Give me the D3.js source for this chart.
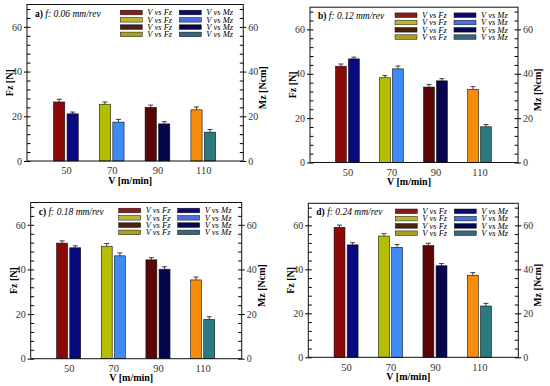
<!DOCTYPE html>
<html>
<head>
<meta charset="utf-8">
<script src="https://cdn.jsdelivr.net/npm/d3@7"></script>
<style>
  body { margin: 0; background: #fff; }
  svg { display: block; }
  text { font-family: "Liberation Serif", "Times New Roman", serif; }
</style>
</head>
<body>
<div id="chart"></div>
<script>
// cutting speeds (x categories)
const speeds = [50, 70, 90, 110];
const panelTags = ["a)", "b)", "c)", "d)"];
const feedRates = ["0.06", "0.12", "0.18", "0.24"];

// Fz [N] and Mz [Ncm] per feed rate
const fzA = [26.4, 25.4, 24.0, 22.9];
const mzA = [21.1, 17.4, 16.6, 12.9];
const fzB = [43.4, 38.2, 34.0, 32.9];
const mzB = [46.7, 42.2, 36.8, 16.1];
const fzC = [51.8, 50.4, 44.3, 35.3];
const mzC = [49.7, 46.1, 40.1, 17.6];
const fzD = [59.1, 55.1, 50.8, 37.3];
const mzD = [51.1, 50.0, 41.6, 23.3];

// error bars
const fzErrA = [1.2, 1.0, 1.0, 1.3];
const mzErrA = [0.8, 1.2, 1.0, 1.2];
const fzErrB = [1.0, 1.0, 1.2, 1.3];
const mzErrB = [0.8, 1.3, 1.0, 1.0];
const fzErrC = [1.0, 1.2, 1.0, 1.3];
const mzErrC = [0.9, 1.3, 1.1, 1.2];
const fzErrD = [1.0, 1.1, 1.0, 1.2];
const mzErrD = [1.0, 1.3, 1.0, 1.2];

const yTicks = [0, 20, 40, 60];
const legendFz = ["V vs Fz", "V vs Fz", "V vs Fz", "V vs Fz"];
const legendMz = ["V vs Mz", "V vs Mz", "V vs Mz", "V vs Mz"];

const fzColors = ["#8a0a0a", "#b5bd00", "#5a0606", "#f78d0a"];
const mzColors = ["#0a0a80", "#3d8bf5", "#06064f", "#2b7a80"];
const legFzColors = ["#8b1a1a", "#b8b830", "#4a200f", "#a8a020"];
const legMzColors = ["#0a0a70", "#4a6fe0", "#050550", "#3a6580"];

const panels = [
  { tag: panelTags[0], feed: feedRates[0], fz: fzA, mz: mzA, fzErr: fzErrA, mzErr: mzErrA,
    box: { left: 27, right: 243.3, top: 4.5, bottom: 161 } },
  { tag: panelTags[1], feed: feedRates[1], fz: fzB, mz: mzB, fzErr: fzErrB, mzErr: mzErrB,
    box: { left: 310, right: 518, top: 7.2, bottom: 162.5 } },
  { tag: panelTags[2], feed: feedRates[2], fz: fzC, mz: mzC, fzErr: fzErrC, mzErr: mzErrC,
    box: { left: 30.7, right: 241.7, top: 202.5, bottom: 358.7 } },
  { tag: panelTags[3], feed: feedRates[3], fz: fzD, mz: mzD, fzErr: fzErrD, mzErr: mzErrD,
    box: { left: 308.3, right: 518.3, top: 203.3, bottom: 357.3 } }
];

const svg = d3.select("#chart")
  .append("svg")
  .attr("width", 550)
  .attr("height", 386);

panels.forEach(p => drawPanel(p));

function drawPanel(p) {
  const b = p.box;
  const g = svg.append("g");

  const x = d3.scaleLinear().domain([33, 127.5]).range([b.left, b.right]);
  const y = d3.scaleLinear().domain([0, 70]).range([b.bottom, b.top]);

  const rows = speeds.map((v, i) => ({
    v, i, fz: p.fz[i], mz: p.mz[i], fzErr: p.fzErr[i], mzErr: p.mzErr[i]
  }));

  // bars
  g.selectAll("rect.fz")
    .data(rows)
    .join("rect")
    .attr("class", "fz")
    .attr("x", d => x(d.v - 5.4))
    .attr("y", d => y(d.fz))
    .attr("width", d => x(d.v - 0.5) - x(d.v - 5.4))
    .attr("height", d => y(0) - y(d.fz))
    .attr("fill", d => fzColors[d.i])
    .attr("stroke", "#111")
    .attr("stroke-width", 0.6);

  g.selectAll("rect.mz")
    .data(rows)
    .join("rect")
    .attr("class", "mz")
    .attr("x", d => x(d.v + 0.5))
    .attr("y", d => y(d.mz))
    .attr("width", d => x(d.v + 5.4) - x(d.v + 0.5))
    .attr("height", d => y(0) - y(d.mz))
    .attr("fill", d => mzColors[d.i])
    .attr("stroke", "#111")
    .attr("stroke-width", 0.6);

  // error bars
  const errs = [];
  rows.forEach(d => {
    errs.push({ cx: d.v - 2.95, val: d.fz, err: d.fzErr });
    errs.push({ cx: d.v + 2.95, val: d.mz, err: d.mzErr });
  });
  const eg = g.append("g").attr("stroke", "#111").attr("stroke-width", 0.8);
  eg.selectAll("line.stem")
    .data(errs)
    .join("line")
    .attr("x1", d => x(d.cx)).attr("x2", d => x(d.cx))
    .attr("y1", d => y(d.val)).attr("y2", d => y(d.val + d.err));
  eg.selectAll("line.cap")
    .data(errs)
    .join("line")
    .attr("x1", d => x(d.cx) - 2.5).attr("x2", d => x(d.cx) + 2.5)
    .attr("y1", d => y(d.val + d.err)).attr("y2", d => y(d.val + d.err));

  // minor / inside ticks
  const minor = d3.range(0, 70, 4);
  g.append("g")
    .attr("transform", `translate(${b.left},0)`)
    .call(d3.axisLeft(y).tickValues(minor).tickSize(-3.5).tickFormat(""))
    .call(s => s.select(".domain").remove());
  g.append("g")
    .attr("transform", `translate(${b.right},0)`)
    .call(d3.axisRight(y).tickValues(minor).tickSize(-3.5).tickFormat(""))
    .call(s => s.select(".domain").remove());

  // major ticks with labels
  g.append("g")
    .attr("transform", `translate(${b.left},0)`)
    .call(d3.axisLeft(y).tickValues(yTicks).tickSize(3).tickPadding(2))
    .call(s => s.select(".domain").remove())
    .call(s => s.selectAll("text")
      .attr("font-size", 10).attr("fill", "#333"));
  g.append("g")
    .attr("transform", `translate(${b.right},0)`)
    .call(d3.axisRight(y).tickValues(yTicks).tickSize(3).tickPadding(2))
    .call(s => s.select(".domain").remove())
    .call(s => s.selectAll("text")
      .attr("font-size", 10).attr("fill", "#333"));

  // x axis labels
  g.append("g")
    .attr("transform", `translate(0,${b.bottom})`)
    .call(d3.axisBottom(x).tickValues(speeds).tickSize(0).tickPadding(6))
    .call(s => s.select(".domain").remove())
    .call(s => s.selectAll("text")
      .attr("font-size", 10.5).attr("fill", "#333"));

  // frame
  g.append("rect")
    .attr("x", b.left).attr("y", b.top)
    .attr("width", b.right - b.left).attr("height", b.bottom - b.top)
    .attr("fill", "none")
    .attr("stroke", "#111")
    .attr("stroke-width", 1);

  // axis titles
  g.append("text")
    .attr("x", (b.left + b.right) / 2 - 5)
    .attr("y", b.bottom + 22.5)
    .attr("text-anchor", "middle")
    .attr("font-size", 10)
    .attr("font-weight", "bold")
    .text("V [m/min]");

  g.append("text")
    .attr("transform", `translate(${b.left - 14},${(b.top + b.bottom) / 2}) rotate(-90)`)
    .attr("text-anchor", "middle")
    .attr("font-size", 10)
    .attr("font-weight", "bold")
    .text("Fz [N]");

  g.append("text")
    .attr("transform", `translate(${b.right + 23},${(b.top + b.bottom) / 2 + 5}) rotate(-90)`)
    .attr("text-anchor", "middle")
    .attr("font-size", 10)
    .attr("font-weight", "bold")
    .text("Mz [Ncm]");

  // panel label
  const lab = g.append("text")
    .attr("x", b.left + 8)
    .attr("y", b.top + 12)
    .attr("font-size", 9.5);
  lab.append("tspan").attr("font-weight", "bold").text(p.tag);
  lab.append("tspan").attr("font-style", "italic").text(" f: " + p.feed + " mm/rev");

  // legend
  const rowY = [8, 15.3, 22.6, 29.9];
  const leg = g.append("g");
  legendFz.forEach((t, i) => {
    leg.append("rect")
      .attr("x", b.right - 123).attr("y", b.top + rowY[i] - 2.3)
      .attr("width", 22).attr("height", 4.6)
      .attr("fill", legFzColors[i]).attr("stroke", "#111").attr("stroke-width", 0.5);
    leg.append("text")
      .attr("x", b.right - 96).attr("y", b.top + rowY[i] + 2.8)
      .attr("font-size", 8.5).attr("font-style", "italic")
      .text(t);
  });
  legendMz.forEach((t, i) => {
    leg.append("rect")
      .attr("x", b.right - 64).attr("y", b.top + rowY[i] - 2.3)
      .attr("width", 22).attr("height", 4.6)
      .attr("fill", legMzColors[i]).attr("stroke", "#111").attr("stroke-width", 0.5);
    leg.append("text")
      .attr("x", b.right - 37).attr("y", b.top + rowY[i] + 2.8)
      .attr("font-size", 8.5).attr("font-style", "italic")
      .text(t);
  });
}
</script>
</body>
</html>
